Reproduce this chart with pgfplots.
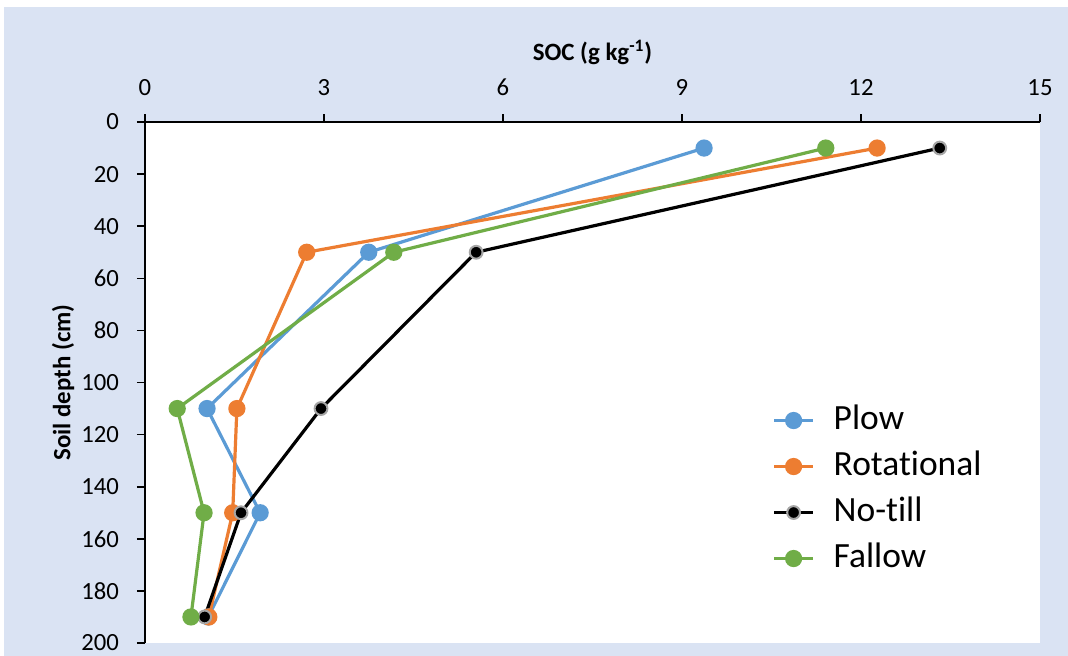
\documentclass[border=0pt]{standalone}
\usepackage{pgfplots}
\pgfplotsset{compat=1.18}
\usepackage{fontspec}
\setmainfont[Ligatures=NoCommon]{Carlito}
\definecolor{bgblue}{HTML}{DAE3F3}
\definecolor{cplow}{HTML}{5B9BD5}
\definecolor{crot}{HTML}{ED7D31}
\definecolor{cfal}{HTML}{70AD47}
\definecolor{cgray}{HTML}{A6A6A6}
\begin{document}
\begin{tikzpicture}
\path[use as bounding box] (-72.5bp,-6.5bp) rectangle (461.5bp,321.5bp);
\fill[white] (-72.5bp,-6.5bp) rectangle (461.5bp,321.5bp);
\fill[bgblue] (-70.5bp,-6.5bp) rectangle (461.5bp,318bp);
\begin{axis}[
  at={(0,0)}, anchor=south west,
  scale only axis, width=447.5bp, height=260.5bp,
  xmin=0, xmax=15, ymin=0, ymax=200,
  y dir=reverse,
  axis x line*=top, axis y line*=left,
  xtick={0,3,6,9,12,15}, ytick={0,20,...,200},
  tick align=outside, major tick length=4bp,
  tick style={black, line width=0.8bp},
  axis line style={black, line width=0.8bp},
  axis background/.style={fill=white},
  /pgf/number format/assume math mode=true,
  ticklabel style={font=\fontsize{12.4}{14}\selectfont},
  xticklabel style={yshift=5.5bp},
  yticklabel style={xshift=-5.5bp},
  xlabel={\textbf{SOC (g kg\textsuperscript{-1})}},
  ylabel={\textbf{Soil depth (cm)}},
  xlabel style={at={(axis description cs:0.5,1.134)}, anchor=center, font=\fontsize{12.5}{14}\selectfont},
  ylabel style={at={(axis description cs:-0.0916,0.5)}, anchor=center, rotate=0, font=\fontsize{12.5}{14}\selectfont},
  legend style={at={(axis description cs:0.694,0.47)}, anchor=north west, draw=none, fill=none,
    font=\fontsize{17.8}{20}\selectfont, row sep=5bp, column sep=8.5bp,
    nodes={inner sep=1bp, text height=12.5bp, text depth=3.5bp},
    cells={anchor=west}},
  legend image code/.code={\draw[mark repeat=2,mark phase=2] plot coordinates {(0bp,0bp)(9.75bp,0bp)(19.5bp,0bp)};},
  every axis plot/.append style={line width=1.6bp, mark=*, mark size=3.5bp},
]
\addplot[cplow, mark options={fill=cplow, draw=cplow}] coordinates {(9.37,10) (3.75,50) (1.04,110) (1.93,150) (1.06,190)};
\addlegendentry{Plow}
\addplot[crot, mark options={fill=crot, draw=crot}] coordinates {(12.27,10) (2.71,50) (1.54,110) (1.47,150) (1.07,190)};
\addlegendentry{Rotational}
\addplot[black, mark options={fill=black, draw=cgray, line width=1bp, mark size=3.2bp}] coordinates {(13.32,10) (5.55,50) (2.95,110) (1.61,150) (1.00,190)};
\addlegendentry{No-till}
\addplot[cfal, mark options={fill=cfal, draw=cfal}] coordinates {(11.41,10) (4.17,50) (0.54,110) (0.99,150) (0.77,190)};
\addlegendentry{Fallow}
\end{axis}
\end{tikzpicture}
\end{document}
